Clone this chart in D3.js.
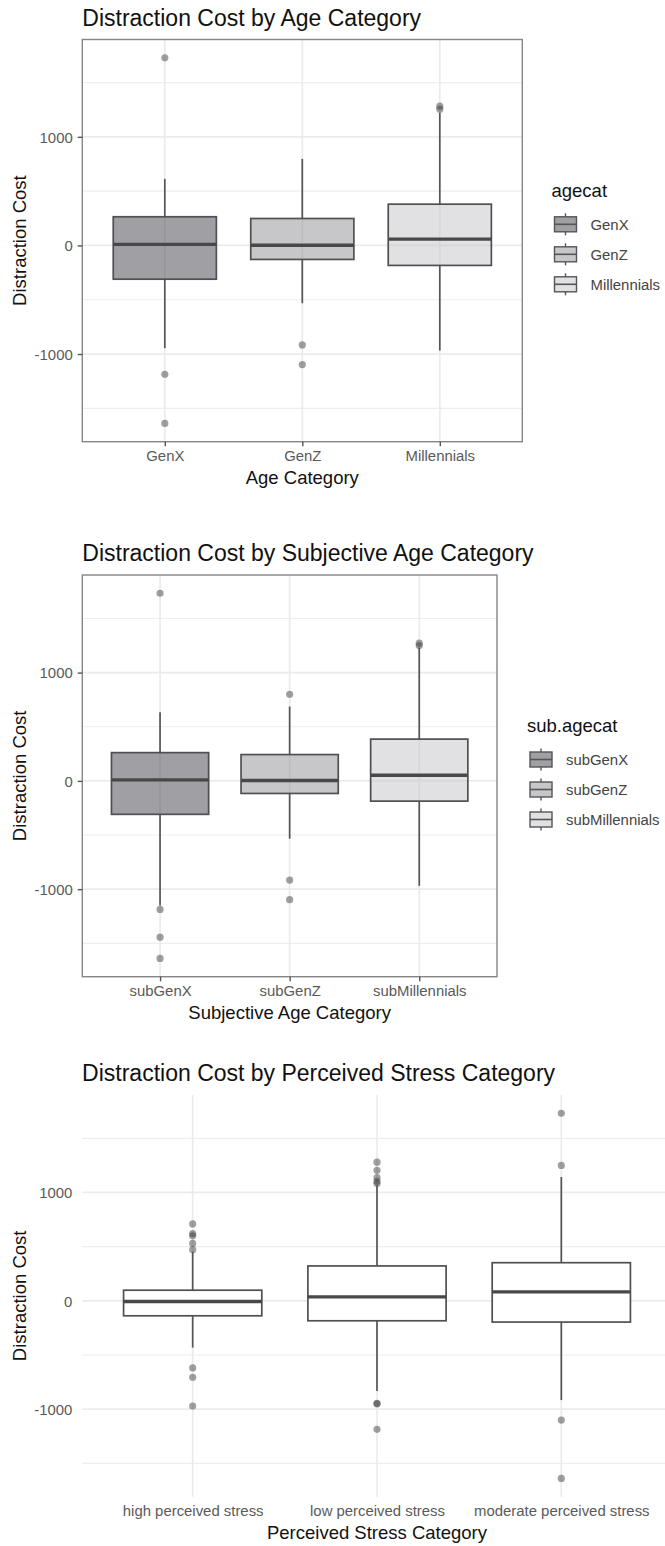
<!DOCTYPE html>
<html><head><meta charset="utf-8">
<script src="https://cdn.jsdelivr.net/npm/d3@7"></script>
<style>html,body{margin:0;padding:0;background:#fff;} svg{display:block;font-family:"Liberation Sans",Arial,Helvetica,sans-serif;}</style>
</head><body>
<svg id="c" width="665" height="1546"></svg>
<script>
// ---------- data ----------
const ageCategories = ["GenX", "GenZ", "Millennials"];
const ageWhiskerLow = [-946, -533, -968];
const ageQ1 = [-311, -129, -184];
const ageMedian = [10, 2, 58];
const ageQ3 = [264, 248, 380];
const ageWhiskerHigh = [613, 797, 1222];
const ageOutliers = [[1728, -1186, -1639], [-916, -1097], [1282, 1255]];

const subCategories = ["subGenX", "subGenZ", "subMillennials"];
const subWhiskerLow = [-1150, -534, -969];
const subQ1 = [-309, -116, -187];
const subMedian = [9, 4, 52];
const subQ3 = [261, 243, 386];
const subWhiskerHigh = [635, 687, 1232];
const subOutliers = [[1733, -1187, -1444, -1640], [800, -916, -1097], [1272, 1250]];

const stressCategories = ["high perceived stress", "low perceived stress", "moderate perceived stress"];
const stressWhiskerLow = [-432, -833, -916];
const stressQ1 = [-138, -184, -196];
const stressMedian = [-6, 37, 83];
const stressQ3 = [98, 322, 352];
const stressWhiskerHigh = [453, 1066, 1143];
const stressOutliers = [
  [710, 620, 600, 530, 472, -619, -705, -971],
  [1280, 1204, 1137, 1103, 1082, -945, -950, -1186],
  [1731, 1250, -1100, -1639]
];

const yTickValues = [-1000, 0, 1000];
const yMinorValues = [-1500, -500, 500, 1500];
const groupFills = ["#40404a", "#909096", "#c4c4ca"];

// ---------- drawing ----------
const svg = d3.select("#c");
const FONT_TITLE = 23, FONT_AXIS = 18.5, FONT_TICK = 14.9;

function drawPanel(o) {
  const g = svg.append("g");
  const x = d3.scalePoint().domain(o.cats).range([o.x0, o.x1]).padding(0.6);
  const bw = x.step() * 0.75;
  const all = [...o.low, ...o.high, ...o.outliers.flat()];
  const [mn, mx] = d3.extent(all);
  const pad = (mx - mn) * 0.05;
  const y = d3.scaleLinear().domain([mn - pad, mx + pad]).range([o.y1, o.y0]);

  // title
  g.append("text").attr("x", o.x0).attr("y", o.y0 - 13.7)
    .attr("font-size", FONT_TITLE).attr("fill", "#111").text(o.title);

  // grid
  g.selectAll(".gmin").data(yMinorValues).join("line")
    .attr("x1", o.x0).attr("x2", o.gridRight || o.x1)
    .attr("y1", d => y(d)).attr("y2", d => y(d))
    .attr("stroke", "#eeeeee").attr("stroke-width", 1.2);
  g.selectAll(".gmaj").data(yTickValues).join("line")
    .attr("x1", o.x0).attr("x2", o.gridRight || o.x1)
    .attr("y1", d => y(d)).attr("y2", d => y(d))
    .attr("stroke", "#ebebeb").attr("stroke-width", 1.7);
  g.selectAll(".gv").data(o.cats).join("line")
    .attr("x1", d => x(d)).attr("x2", d => x(d))
    .attr("y1", o.y0).attr("y2", o.y1)
    .attr("stroke", "#ebebeb").attr("stroke-width", 1.7);

  const idx = o.cats.map((c, i) => i);
  // outliers
  idx.forEach(i => {
    g.selectAll(null).data(o.outliers[i]).join("circle")
      .attr("cx", x(o.cats[i])).attr("cy", d => y(d)).attr("r", 3.6)
      .attr("fill", "#383838").attr("fill-opacity", 0.48);
  });
  // whiskers
  g.selectAll(".wh").data(idx).join("line")
    .attr("x1", i => x(o.cats[i])).attr("x2", i => x(o.cats[i]))
    .attr("y1", i => y(o.high[i])).attr("y2", i => y(o.q3[i]))
    .attr("stroke", "#555").attr("stroke-width", 1.7);
  g.selectAll(".wl").data(idx).join("line")
    .attr("x1", i => x(o.cats[i])).attr("x2", i => x(o.cats[i]))
    .attr("y1", i => y(o.q1[i])).attr("y2", i => y(o.low[i]))
    .attr("stroke", "#555").attr("stroke-width", 1.7);
  // boxes
  g.selectAll(".bx").data(idx).join("rect")
    .attr("x", i => x(o.cats[i]) - bw / 2).attr("width", bw)
    .attr("y", i => y(o.q3[i])).attr("height", i => y(o.q1[i]) - y(o.q3[i]))
    .attr("fill", i => o.fills ? o.fills[i] : "#fff")
    .attr("fill-opacity", o.fills ? 0.5 : 1)
    .attr("stroke", "#505050").attr("stroke-width", 1.7);
  g.selectAll(".md").data(idx).join("line")
    .attr("x1", i => x(o.cats[i]) - bw / 2).attr("x2", i => x(o.cats[i]) + bw / 2)
    .attr("y1", i => y(o.med[i])).attr("y2", i => y(o.med[i]))
    .attr("stroke", "#484848").attr("stroke-width", 3.4);

  // border
  if (o.border) {
    g.append("rect").attr("x", o.x0).attr("y", o.y0)
      .attr("width", o.x1 - o.x0).attr("height", o.y1 - o.y0)
      .attr("fill", "none").attr("stroke", "#858585").attr("stroke-width", 1.4);
  }

  // axes
  const tickLen = o.border ? 4.6 : 0;
  const ya = g.append("g").attr("transform", `translate(${o.x0},0)`)
    .call(d3.axisLeft(y).tickValues(yTickValues).tickSize(tickLen)
      .tickPadding(o.border ? 5 : 9.8).tickFormat(d => String(d)));
  const xa = g.append("g").attr("transform", `translate(0,${o.y1})`)
    .call(d3.axisBottom(x).tickSize(tickLen).tickPadding(o.border ? 4.2 : 8.8));
  [ya, xa].forEach(a => {
    a.select(".domain").remove();
    a.selectAll(".tick line").attr("stroke", "#555").attr("stroke-width", 1.4);
    a.selectAll(".tick text").attr("fill", "#5a5a5a").attr("font-size", FONT_TICK)
      .attr("font-family", "Liberation Sans, Arial, sans-serif");
  });
  ya.selectAll(".tick text").attr("dy", "0.36em");

  // axis titles
  g.append("text").attr("x", (o.x0 + o.x1) / 2).attr("y", o.y1 + 42.2)
    .attr("text-anchor", "middle").attr("font-size", FONT_AXIS).attr("fill", "#111")
    .text(o.xTitle);
  g.append("text").attr("transform", `translate(26,${(o.y0 + o.y1) / 2}) rotate(-90)`)
    .attr("text-anchor", "middle").attr("font-size", FONT_AXIS).attr("fill", "#111")
    .text("Distraction Cost");

  // legend
  if (o.legend) {
    const L = o.legend;
    const lg = g.append("g");
    lg.append("text").attr("x", L.x).attr("y", L.y - 27.5)
      .attr("font-size", FONT_AXIS).attr("fill", "#111").text(L.title);
    idx.forEach(i => {
      const cy = L.y + i * 30, bx = L.x + 3, kw = 22;
      lg.append("line").attr("x1", bx + kw / 2).attr("x2", bx + kw / 2)
        .attr("y1", cy - 11).attr("y2", cy + 11)
        .attr("stroke", "#555").attr("stroke-width", 1.4);
      lg.append("rect").attr("x", bx).attr("y", cy - 7.5).attr("width", kw).attr("height", 15)
        .attr("fill", "#fff");
      lg.append("rect").attr("x", bx).attr("y", cy - 7.5).attr("width", kw).attr("height", 15)
        .attr("fill", o.fills[i]).attr("fill-opacity", 0.5)
        .attr("stroke", "#555").attr("stroke-width", 1.4);
      lg.append("line").attr("x1", bx).attr("x2", bx + kw).attr("y1", cy).attr("y2", cy)
        .attr("stroke", "#555").attr("stroke-width", 1.6);
      lg.append("text").attr("x", bx + 36).attr("y", cy + 5.3)
        .attr("font-size", FONT_TICK).attr("fill", "#444").text(o.cats[i]);
    });
  }
}

drawPanel({
  title: "Distraction Cost by Age Category", xTitle: "Age Category",
  cats: ageCategories, low: ageWhiskerLow, q1: ageQ1, med: ageMedian, q3: ageQ3,
  high: ageWhiskerHigh, outliers: ageOutliers, fills: groupFills,
  x0: 82.3, x1: 522.3, y0: 39.5, y1: 441.7, border: true,
  legend: { title: "agecat", x: 551.5, y: 224.3 }
});
drawPanel({
  title: "Distraction Cost by Subjective Age Category", xTitle: "Subjective Age Category",
  cats: subCategories, low: subWhiskerLow, q1: subQ1, med: subMedian, q3: subQ3,
  high: subWhiskerHigh, outliers: subOutliers, fills: groupFills,
  x0: 82.3, x1: 497, y0: 575, y1: 976.7, border: true,
  legend: { title: "sub.agecat", x: 527, y: 759.5 }
});
drawPanel({
  title: "Distraction Cost by Perceived Stress Category", xTitle: "Perceived Stress Category",
  cats: stressCategories, low: stressWhiskerLow, q1: stressQ1, med: stressMedian, q3: stressQ3,
  high: stressWhiskerHigh, outliers: stressOutliers, fills: null,
  x0: 82.1, x1: 671.9, y0: 1095, y1: 1496.7, border: false
});
</script>
</body></html>
